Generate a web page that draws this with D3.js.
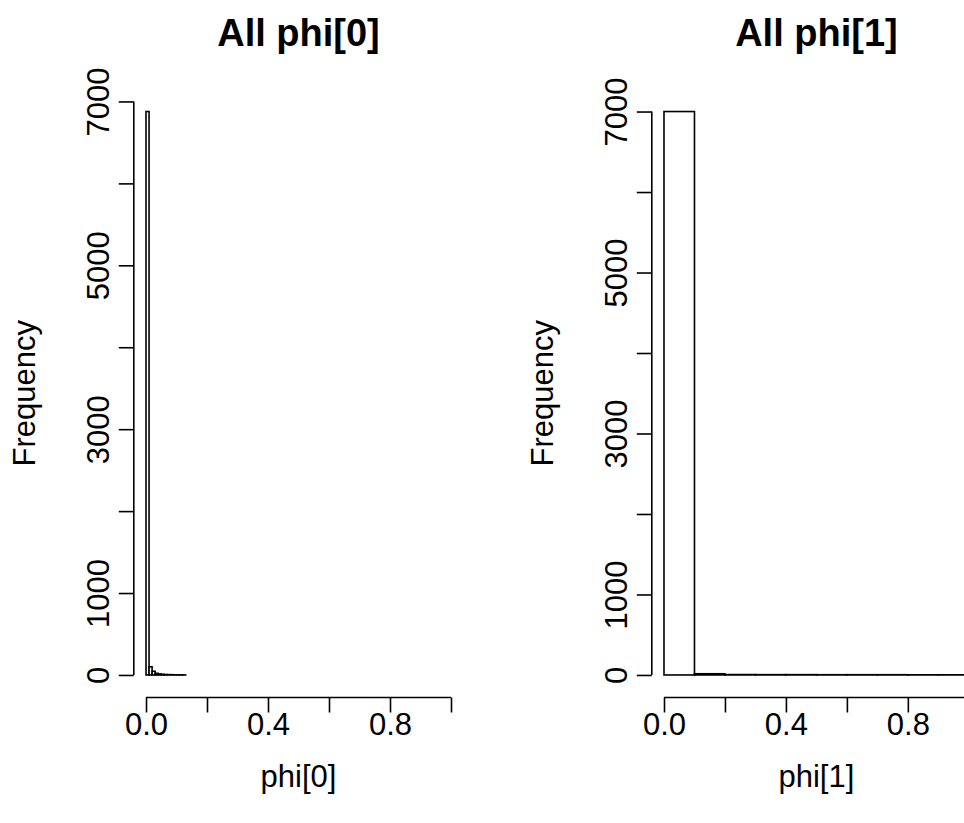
<!DOCTYPE html>
<html>
<head>
<meta charset="utf-8">
<script src="https://cdn.jsdelivr.net/npm/d3@7/dist/d3.min.js"></script>
<style>
  html, body { margin: 0; padding: 0; background: #fff; }
  svg { display: block; font-family: "Liberation Sans", Arial, Helvetica, sans-serif; }
</style>
</head>
<body>
<svg id="chart" width="964" height="823"></svg>
<script>
// Histogram of phi[0]: bins of width 0.01 starting at 0
const phi0BinWidth = 0.01;
const phi0Counts = [6877, 100, 45, 20, 12, 8, 5, 4, 3, 2, 2, 1, 1];

// Histogram of phi[1]: bins of width 0.1 starting at 0
const phi1BinWidth = 0.1;
const phi1Counts = [7000, 15, 5, 4, 4, 3, 3, 3, 2, 2];

const xTicks = [0, 0.2, 0.4, 0.6, 0.8, 1.0];
const xTickLabels = ["0.0", "", "0.4", "", "0.8", ""];
const yTicks = [0, 1000, 2000, 3000, 4000, 5000, 6000, 7000];
const yTickShown = [0, 1000, 3000, 5000, 7000];

const panels = [
  { title: "All phi[0]", xlab: "phi[0]", counts: phi0Counts, bw: phi0BinWidth, left: 133.8, right: 463.2 },
  { title: "All phi[1]", xlab: "phi[1]", counts: phi1Counts, bw: phi1BinWidth, left: 651.8, right: 981 }
];

const svg = d3.select("#chart");
const plotTop = 89, plotBottom = 697.5;
const fontSize = 31;
const titleSize = 38;

panels.forEach(p => {
  const bins = p.counts.map((c, i) => ({ x0: i * p.bw, x1: (i + 1) * p.bw, n: c }));
  const ymax = d3.max(p.counts);
  const x = d3.scaleLinear().domain([-0.04, 1.04]).range([p.left, p.right]);
  const y = d3.scaleLinear().domain([-0.04 * ymax, 1.04 * ymax]).range([plotBottom, plotTop]);

  const g = svg.append("g");

  // bars
  g.selectAll("rect.bar").data(bins).join("rect")
    .attr("class", "bar")
    .attr("x", d => x(d.x0))
    .attr("width", d => x(d.x1) - x(d.x0))
    .attr("y", d => y(d.n))
    .attr("height", d => y(0) - y(d.n))
    .attr("fill", "#fff")
    .attr("stroke", "#000")
    .attr("stroke-width", 1.6);

  // x axis
  const xAxis = d3.axisBottom(x).tickValues(xTicks)
    .tickFormat((d, i) => xTickLabels[i]).tickSize(15).tickSizeOuter(0);
  const gx = g.append("g").attr("transform", `translate(0,${plotBottom})`).call(xAxis);
  gx.select(".domain").attr("d", `M${x(0)},0H${x(1)}`).attr("stroke-width", 1.6);
  gx.selectAll(".tick line").attr("stroke-width", 1.6);
  gx.selectAll(".tick text").attr("font-size", fontSize).attr("fill", "#000")
    .attr("font-family", "Liberation Sans, Arial, sans-serif").attr("y", 15).attr("dy", "0.71em");

  // y axis
  const yAxis = d3.axisLeft(y).tickValues(yTicks)
    .tickFormat(d => yTickShown.includes(d) ? String(d) : "").tickSize(15).tickSizeOuter(0);
  const gy = g.append("g").attr("transform", `translate(${p.left},0)`).call(yAxis);
  gy.select(".domain").attr("d", `M0,${y(0)}V${y(7000)}`).attr("stroke-width", 1.6);
  gy.selectAll(".tick line").attr("stroke-width", 1.6);
  gy.selectAll(".tick text")
    .attr("font-size", fontSize).attr("fill", "#000")
    .attr("font-family", "Liberation Sans, Arial, sans-serif")
    .attr("text-anchor", "middle")
    .attr("x", null).attr("dy", null)
    .attr("transform", "translate(-25,0) rotate(-90)");

  // title
  g.append("text")
    .attr("x", (p.left + p.right) / 2).attr("y", 46)
    .attr("text-anchor", "middle")
    .attr("font-size", titleSize).attr("font-weight", "bold")
    .text(p.title);

  // x label
  g.append("text")
    .attr("x", (p.left + p.right) / 2).attr("y", 787)
    .attr("text-anchor", "middle")
    .attr("font-size", fontSize)
    .text(p.xlab);

  // y label
  g.append("text")
    .attr("transform", `translate(${p.left - 99},${(plotTop + plotBottom) / 2}) rotate(-90)`)
    .attr("text-anchor", "middle")
    .attr("font-size", fontSize)
    .text("Frequency");
});
</script>
</body>
</html>
